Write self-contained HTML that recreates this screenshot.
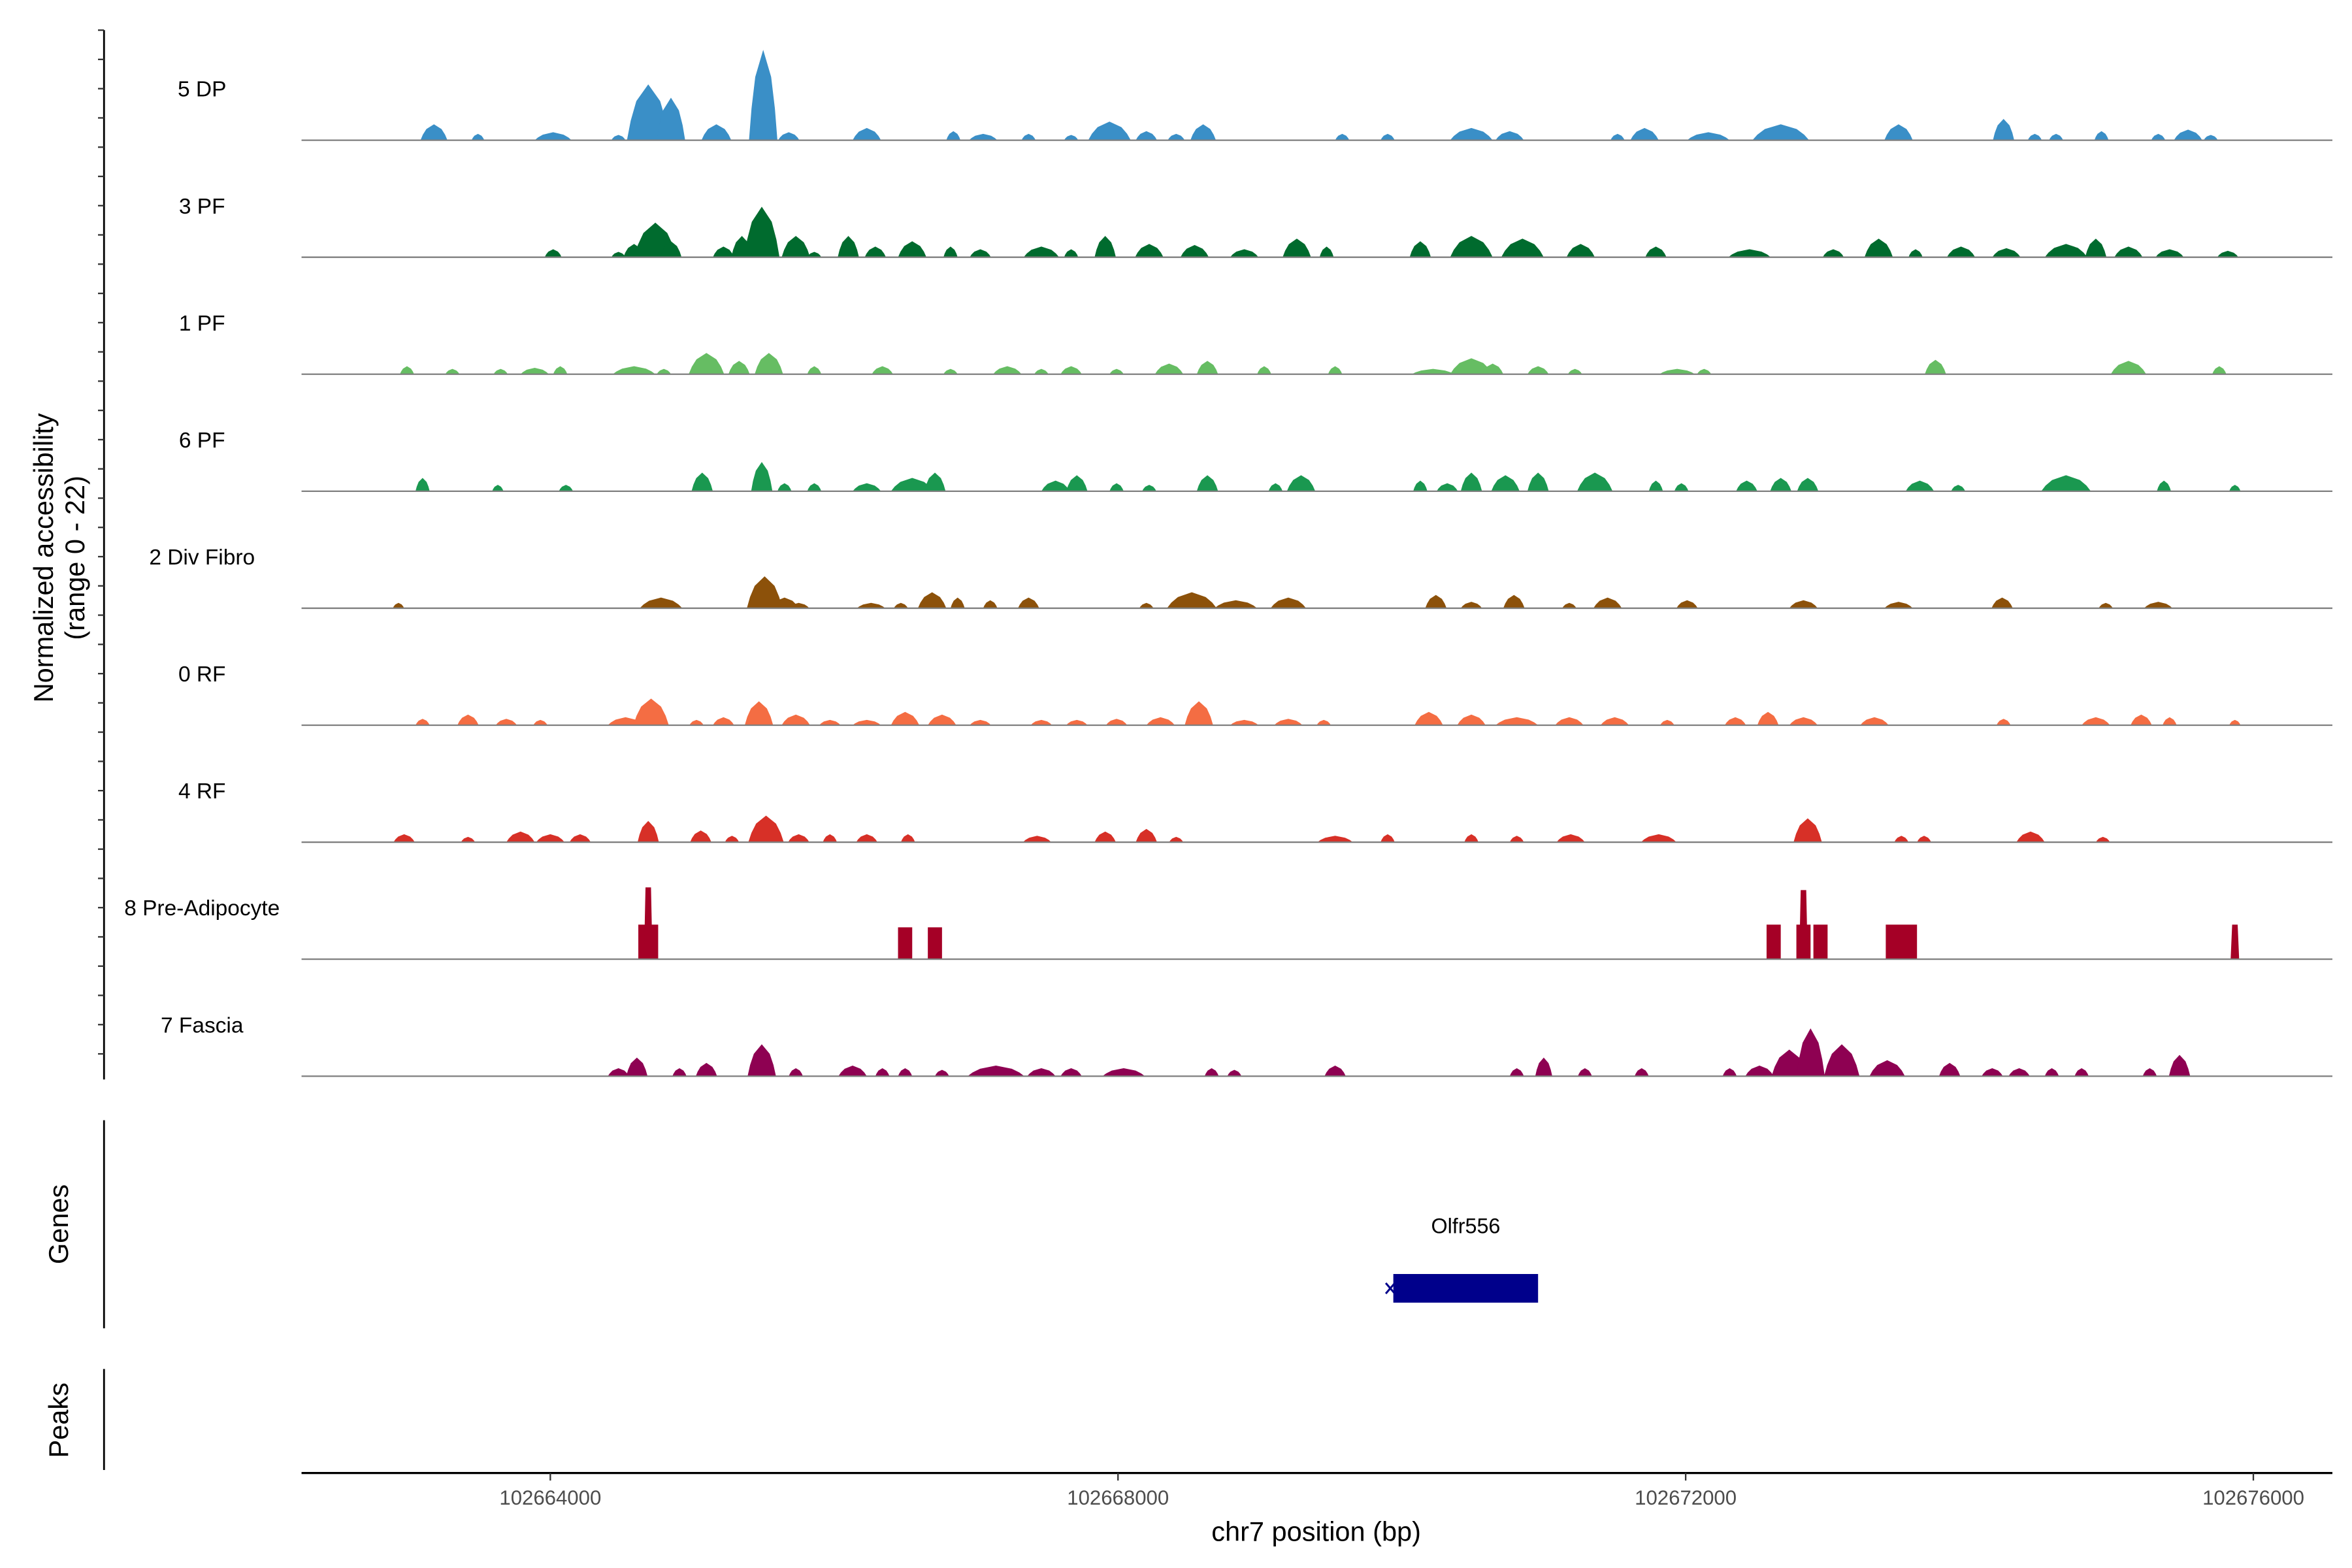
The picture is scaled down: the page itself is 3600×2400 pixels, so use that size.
<!DOCTYPE html>
<html><head><meta charset="utf-8"><style>
html,body{margin:0;padding:0;background:#fff}
svg{display:block;font-family:"Liberation Sans",Arial,sans-serif}
</style></head><body>
<svg id="chart" width="3600" height="2400" viewBox="0 0 1560 1040" xmlns="http://www.w3.org/2000/svg">
<g id="tracks"></g>
<g id="yaxis"></g>
<text transform="translate(35,370) rotate(-90)" text-anchor="middle" font-size="18" fill="#000">Normalized accessibility</text>
<text transform="translate(56,370) rotate(-90)" text-anchor="middle" font-size="18" fill="#000">(range 0 - 22)</text>
<line x1="69" y1="743" x2="69" y2="881" stroke="#000" stroke-width="1.2"/>
<text transform="translate(45,812) rotate(-90)" text-anchor="middle" font-size="18">Genes</text>
<line x1="69" y1="908" x2="69" y2="975" stroke="#000" stroke-width="1.2"/>
<text transform="translate(45,942) rotate(-90)" text-anchor="middle" font-size="18">Peaks</text>
<g id="genes"></g>
<g id="xaxis"></g>
<text x="873" y="1022" text-anchor="middle" font-size="18">chr7 position (bp)</text>
</svg>
<script>
const trackNames = ["5 DP","3 PF","1 PF","6 PF","2 Div Fibro","0 RF","4 RF","8 Pre-Adipocyte","7 Fascia"];
const trackColors = ["#3a8fc7","#006b2e","#66bd63","#1a9850","#8c510a","#f46d43","#d73027","#a50026","#8e0152"];
// peaks: [center kb, width bp, height (normalized accessibility)]
const peaks5DP = [[102663.18,190,3],[102663.49,90,1.2],[102664.02,260,1.5],[102664.48,100,1],[102664.69,300,10.5],[102664.85,200,8],[102665.17,210,3],[102665.50,200,17],[102665.68,150,1.5],[102666.23,200,2.3],[102666.84,100,1.7],[102667.05,200,1.2],[102667.37,100,1.2],[102667.67,100,1],[102667.94,300,3.5],[102668.20,150,1.7],[102668.41,120,1.2],[102668.60,180,3],[102669.58,100,1.2],[102669.90,100,1.2],[102670.49,300,2.3],[102670.76,200,1.7],[102671.52,100,1.2],[102671.71,200,2.3],[102672.16,300,1.5],[102672.67,400,3],[102673.50,200,3],[102674.24,150,4],[102674.46,100,1.2],[102674.61,100,1.2],[102674.93,100,1.7],[102675.33,100,1.2],[102675.54,200,2],[102675.70,100,1]];
const peaks3PF = [[102664.02,120,1.5],[102664.48,100,1],[102664.74,300,6.5],[102664.59,150,2.5],[102664.85,150,3],[102665.22,150,2],[102665.49,250,9.5],[102665.35,150,4],[102665.73,200,4],[102665.86,100,1],[102666.10,150,4],[102666.29,150,2],[102666.55,200,3],[102666.82,100,2],[102667.03,150,1.5],[102667.46,250,2],[102667.67,100,1.5],[102667.91,150,4],[102668.22,200,2.5],[102668.54,200,2.3],[102668.89,200,1.5],[102669.26,200,3.5],[102669.47,100,2],[102670.13,150,3],[102670.49,300,4],[102670.85,300,3.5],[102671.26,200,2.5],[102671.79,150,2],[102672.45,300,1.5],[102673.04,150,1.5],[102673.36,200,3.5],[102673.62,100,1.5],[102673.94,200,2],[102674.26,200,1.7],[102674.68,300,2.5],[102674.89,150,3.5],[102675.12,200,2],[102675.41,200,1.5],[102675.82,150,1.2]];
const peaks1PF = [[102662.99,100,1.5],[102663.31,100,1],[102663.65,100,1],[102663.89,200,1.2],[102664.07,100,1.5],[102664.59,300,1.5],[102664.80,100,1],[102665.10,250,4],[102665.33,150,2.5],[102665.54,200,4],[102665.86,100,1.5],[102666.34,150,1.5],[102666.82,100,1],[102667.22,200,1.5],[102667.46,100,1],[102667.67,150,1.5],[102667.99,100,1],[102668.36,200,2],[102668.63,150,2.5],[102669.03,100,1.5],[102669.53,100,1.5],[102670.22,300,1],[102670.49,300,3],[102670.64,150,2],[102670.96,150,1.5],[102671.22,100,1],[102671.94,250,1],[102672.13,100,1],[102673.76,150,2.7],[102675.12,250,2.5],[102675.76,100,1.5]];
const peaks6PF = [[102663.10,100,2.5],[102663.63,80,1.2],[102664.11,100,1.2],[102665.07,150,3.5],[102665.49,150,5.5],[102665.65,100,1.5],[102665.86,100,1.5],[102666.23,200,1.5],[102666.55,300,2.5],[102666.71,150,3.5],[102667.56,200,2],[102667.71,150,3],[102667.99,100,1.5],[102668.22,100,1.2],[102668.63,150,3],[102669.11,100,1.5],[102669.29,200,3],[102670.13,100,2],[102670.32,150,1.5],[102670.49,150,3.5],[102670.73,200,3],[102670.96,150,3.5],[102671.36,250,3.5],[102671.79,100,2],[102671.97,100,1.5],[102672.43,150,2],[102672.67,150,2.5],[102672.86,150,2.5],[102673.65,200,2],[102673.92,100,1.2],[102674.68,350,3],[102675.37,100,2],[102675.87,80,1.2]];
const peaks2DivFibro = [[102662.93,80,1],[102664.78,300,2],[102665.51,250,6],[102665.65,200,2],[102665.75,150,1],[102666.26,200,1],[102666.47,100,1],[102666.69,200,3],[102666.87,100,2],[102667.10,100,1.5],[102667.37,150,2],[102668.20,100,1],[102668.52,350,3],[102668.83,300,1.5],[102669.20,250,2],[102670.24,150,2.5],[102670.49,150,1.2],[102670.79,150,2.5],[102671.18,100,1],[102671.45,200,2],[102672.01,150,1.5],[102672.83,200,1.5],[102673.50,200,1.2],[102674.23,150,2],[102674.96,100,1],[102675.33,200,1.2]];
const peaks0RF = [[102663.10,100,1.2],[102663.42,150,2],[102663.69,150,1.2],[102663.93,100,1],[102664.53,250,1.5],[102664.71,250,5],[102665.03,100,1],[102665.22,150,1.5],[102665.47,200,4.5],[102665.73,200,2],[102665.97,150,1],[102666.23,200,1],[102666.50,200,2.5],[102666.76,200,2],[102667.03,150,1],[102667.46,150,1],[102667.71,150,1],[102667.99,150,1.2],[102668.30,200,1.5],[102668.57,200,4.5],[102668.89,200,1],[102669.20,200,1.2],[102669.45,100,1],[102670.19,200,2.5],[102670.49,200,2],[102670.81,300,1.5],[102671.18,200,1.5],[102671.50,200,1.5],[102671.87,100,1],[102672.35,150,1.5],[102672.58,150,2.5],[102672.83,200,1.5],[102673.33,200,1.5],[102674.24,100,1.2],[102674.89,200,1.5],[102675.21,150,2],[102675.41,100,1.5],[102675.87,80,1]];
const peaks4RF = [[102662.97,150,1.5],[102663.42,100,1],[102663.79,200,2],[102664.00,200,1.5],[102664.21,150,1.5],[102664.69,150,4],[102665.06,150,2.2],[102665.28,100,1.2],[102665.52,250,5],[102665.75,150,1.5],[102665.97,100,1.5],[102666.23,150,1.5],[102666.52,100,1.5],[102667.43,200,1.2],[102667.91,150,2],[102668.20,150,2.5],[102668.41,100,1],[102669.53,250,1.2],[102669.90,100,1.5],[102670.49,100,1.5],[102670.81,100,1.2],[102671.19,200,1.5],[102671.81,250,1.5],[102672.86,200,4.5],[102673.52,100,1.2],[102673.68,100,1.2],[102674.43,200,2],[102674.94,100,1]];
const peaks8PreAdipocyte = [[102664.69,140,6.5],[102664.69,60,13.5],[102666.50,100,6],[102666.71,100,6],[102672.62,100,6.5],[102672.83,100,6.5],[102672.83,60,13],[102672.95,100,6.5],[102673.52,220,6.5],[102675.87,60,6.5]];
const peaks7Fascia = [[102664.48,150,1.5],[102664.61,150,3.5],[102664.91,100,1.5],[102665.10,150,2.5],[102665.49,200,6],[102665.73,100,1.5],[102666.13,200,2],[102666.34,100,1.5],[102666.50,100,1.5],[102666.76,100,1.2],[102667.14,400,2],[102667.46,200,1.5],[102667.67,150,1.5],[102668.04,300,1.5],[102668.66,100,1.5],[102668.82,100,1.2],[102669.53,150,2],[102670.81,100,1.5],[102671.00,120,3.5],[102671.29,100,1.5],[102671.69,100,1.5],[102672.31,100,1.5],[102672.52,200,2],[102672.73,250,5],[102672.88,200,9],[102673.10,250,6],[102673.42,250,3],[102673.86,150,2.5],[102674.16,150,1.5],[102674.35,150,1.5],[102674.58,100,1.5],[102674.79,100,1.5],[102675.27,100,1.5],[102675.48,150,4]];
const trackPeaks = [peaks5DP,peaks3PF,peaks1PF,peaks6PF,peaks2DivFibro,peaks0RF,peaks4RF,peaks8PreAdipocyte,peaks7Fascia];
const xTicks = [102664000,102668000,102672000,102676000];
const yMax = 22;
const geneName = "Olfr556";
const geneStart = 102669940, geneEnd = 102670960;

const NS="http://www.w3.org/2000/svg";
const X0=200,X1=1547,BP0=102662247,BP1=102676557;
function xs(bp){return X0+(bp-BP0)/(BP1-BP0)*(X1-X0);}
const firstBase=93, trackStep=77.6, trackH=77.6;
function ys(v,base){return base - v/yMax*trackH;}
function mk(tag,attrs,parent){const e=document.createElementNS(NS,tag);for(const k in attrs)e.setAttribute(k,attrs[k]);parent.appendChild(e);return e;}

const tg=document.getElementById('tracks');
trackNames.forEach((name,i)=>{
  const base=firstBase+i*trackStep;
  const g=mk('g',{},tg);
  
  
  const lab=mk('text',{x:134,y:base-29,'text-anchor':'middle','font-size':14.5,fill:'#000'},g);
  lab.textContent=name;
  
  
  const block = i===7;
  trackPeaks[i].forEach(p=>{
    const c=p[0]*1000, w=p[1], h=p[2];
    const s=xs(c-w/2), e=xs(c+w/2), m=xs(c), top=ys(h,base);
    let d;
    if(block && w>60) d=`M${s},${base}L${s},${top}L${e},${top}L${e},${base}Z`;
    else if(block) d=`M${s},${base}L${s+1},${top}L${e-1},${top}L${e},${base}Z`;
    else {
      const q=(e-s)*0.22;
      d=`M${s},${base}L${s+q*0.4},${ys(h*0.35,base)}L${s+q},${ys(h*0.7,base)}L${m},${top}L${e-q},${ys(h*0.7,base)}L${e-q*0.4},${ys(h*0.35,base)}L${e},${base}Z`;
    }
    const path=mk('path',{d:d,fill:trackColors[i]},g);
    
    
  });
  const bl=mk('line',{x1:X0,x2:X1,y1:base,y2:base,stroke:'#7f7f7f','stroke-width':1},g);
  
  
});

const ya=document.getElementById('yaxis');
mk('line',{x1:69,y1:20,x2:69,y2:716,stroke:'#000','stroke-width':1.2},ya);
for(let y=20;y<=716;y+=trackStep/4){
  const t=mk('line',{x1:65,x2:69,y1:y,y2:y,stroke:'#333','stroke-width':1},ya);
  
  
}

const gg=document.getElementById('genes');
const gr=mk('rect',{x:xs(geneStart),y:845,width:xs(geneEnd)-xs(geneStart),height:19,fill:'#00008b'},gg);


const ga=mk('path',{d:`M${xs(geneStart)-5},851L${xs(geneStart)+1},858M${xs(geneStart)-5},858L${xs(geneStart)+1},851`,stroke:'#00008b','stroke-width':1.3},gg);


const gl=mk('text',{x:(xs(geneStart)+xs(geneEnd))/2,y:818,'text-anchor':'middle','font-size':14},gg);
gl.textContent=geneName;



const xa=document.getElementById('xaxis');
mk('line',{x1:X0,x2:X1,y1:977,y2:977,stroke:'#000','stroke-width':1.4},xa);
xTicks.forEach(t=>{
  const x=xs(t);
  const tk=mk('line',{x1:x,x2:x,y1:977,y2:982,stroke:'#333','stroke-width':1},xa);
  
  
  const tl=mk('text',{x:x,y:998,'text-anchor':'middle','font-size':13.5,fill:'#4d4d4d'},xa);
  tl.textContent=String(t);
  
  
});
</script>
</body></html>
